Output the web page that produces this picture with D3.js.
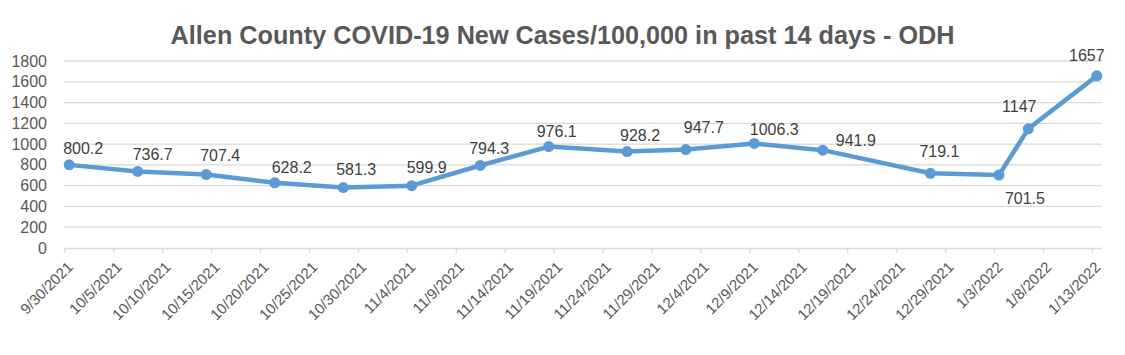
<!DOCTYPE html>
<html><head><meta charset="utf-8">
<script src="https://cdn.jsdelivr.net/npm/d3@7"></script>
<style>body{margin:0;background:#fff} svg{display:block}</style>
</head><body><svg id="c" width="1125" height="355"></svg>
<script>
const title = "Allen County COVID-19 New Cases/100,000 in past 14 days - ODH";
const dates = ["2021-09-30","2021-10-07","2021-10-14","2021-10-21","2021-10-28","2021-11-04","2021-11-11","2021-11-18","2021-11-26","2021-12-02","2021-12-09","2021-12-16","2021-12-27","2022-01-03","2022-01-06","2022-01-13"];
const values = [800.2, 736.7, 707.4, 628.2, 581.3, 599.9, 794.3, 976.1, 928.2, 947.7, 1006.3, 941.9, 719.1, 701.5, 1147, 1657];
const yTicks = [0, 200, 400, 600, 800, 1000, 1200, 1400, 1600, 1800];
const xTickLabels = ["9/30/2021","10/5/2021","10/10/2021","10/15/2021","10/20/2021","10/25/2021","10/30/2021","11/4/2021","11/9/2021","11/14/2021","11/19/2021","11/24/2021","11/29/2021","12/4/2021","12/9/2021","12/14/2021","12/19/2021","12/24/2021","12/29/2021","1/3/2022","1/8/2022","1/13/2022"];
// label nudges (dx, dy of label centre relative to its point)
const labelNudge = [[14,-16],[15,-17],[14,-19],[17,-15],[13,-18],[15,-18],[9,-17],[8,-15],[13,-16],[18,-22],[20,-14],[33,-10],[9,-22],[26,23],[-9,-22],[-10,-20]];

const svg = d3.select("#c");
const parse = d3.utcParse("%Y-%m-%d");
const parseTick = d3.utcParse("%-m/%-d/%Y");
const DAY = 864e5;
const start = parse(dates[0]);
const end = new Date(parse(dates[dates.length-1]).getTime() + DAY);

const x = d3.scaleUtc().domain([start, end]).range([64.3, 1101.7]);
const y = d3.scaleLinear().domain([0, 1800]).range([248, 61]);

const grid = "#d9d9d9", txt = "#595959";

// gridlines
svg.append("g").selectAll("line").data(yTicks.slice(1)).join("line")
  .attr("x1", x.range()[0]).attr("x2", x.range()[1])
  .attr("y1", d => y(d)).attr("y2", d => y(d))
  .attr("stroke", grid).attr("stroke-width", 1.3);

// y axis labels
svg.append("g").selectAll("text").data(yTicks).join("text")
  .attr("x", 47).attr("y", d => y(d)).attr("dy", "0.35em")
  .attr("text-anchor", "end").attr("fill", txt)
  .style("font", "16px 'Liberation Sans', Arial, sans-serif")
  .text(d => d);

// x axis
const tickDates = xTickLabels.map(parseTick);
const xAxis = d3.axisBottom(x).tickValues(tickDates).tickSize(5).tickFormat((d,i) => xTickLabels[i]);
const gx = svg.append("g").attr("transform", "translate(0,248)").call(xAxis);
gx.select(".domain").attr("stroke", grid).attr("stroke-width", 1.3).attr("d", `M${x.range()[0]},0.5V0.5H${x.range()[1]}`);
gx.selectAll(".tick line").attr("stroke", grid).attr("stroke-width", 1.3);
gx.selectAll(".tick text")
  .attr("fill", txt)
  .style("font", "15px 'Liberation Sans', Arial, sans-serif")
  .attr("text-anchor", "end")
  .attr("x", 0).attr("y", 0).attr("dy", 0)
  .attr("transform", "translate(9,20) rotate(-45)");

// line
const pts = dates.map((d,i) => ({t: new Date(parse(d).getTime() + DAY/2), v: values[i], i}));
const line = d3.line().x(d => x(d.t)).y(d => y(d.v));
svg.append("path").datum(pts).attr("d", line)
  .attr("fill", "none").attr("stroke", "#5B9BD5").attr("stroke-width", 4.5)
  .attr("stroke-linejoin", "round").attr("stroke-linecap", "round");
svg.append("g").selectAll("circle").data(pts).join("circle")
  .attr("cx", d => x(d.t)).attr("cy", d => y(d.v)).attr("r", 5.5)
  .attr("fill", "#5B9BD5");

// data labels
svg.append("g").selectAll("text").data(pts).join("text")
  .attr("x", d => x(d.t) + labelNudge[d.i][0])
  .attr("y", d => y(d.v) + labelNudge[d.i][1])
  .attr("dy", "0.35em").attr("text-anchor", "middle").attr("fill", "#404040")
  .style("font", "16px 'Liberation Sans', Arial, sans-serif")
  .text(d => String(d.v));

// title
const tt = svg.append("text").attr("x", 562.6).attr("y", 44).attr("text-anchor", "middle")
  .attr("fill", "#595959")
  .style("font", "bold 24px 'Liberation Sans', Arial, sans-serif")
  .text(title);
const w = tt.node().getComputedTextLength();
tt.style("font-size", (24 * 784 / w).toFixed(2) + "px");
</script></body></html>
